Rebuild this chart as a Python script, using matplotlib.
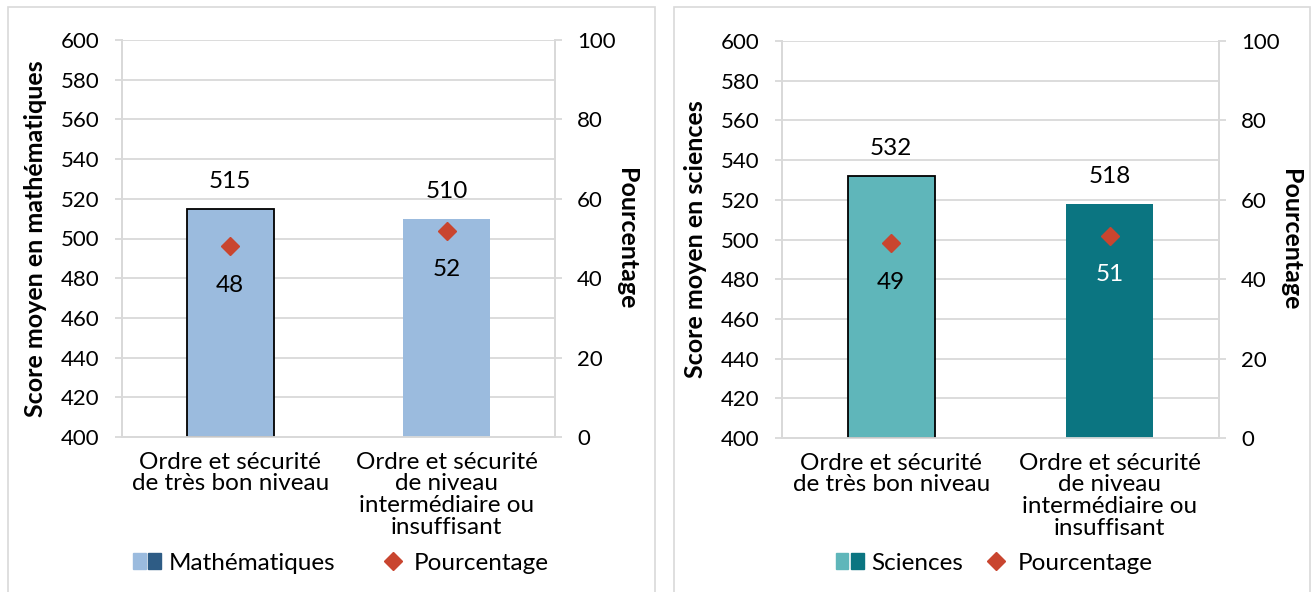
import matplotlib.pyplot as plt
from matplotlib.patches import Patch, Rectangle
from matplotlib.lines import Line2D
from matplotlib.legend_handler import HandlerTuple

plt.rcParams['font.family'] = ['Lato', 'DejaVu Sans']

# Data
categories = ["Ordre et sécurité\nde très bon niveau",
              "Ordre et sécurité\nde niveau\nintermédiaire ou\ninsuffisant"]
math_scores = [515, 510]
math_pct = [48, 52]
sci_scores = [532, 518]
sci_pct = [49, 51]

grid_col = '#D9D9D9'
diamond_col = '#C9452F'
fs = 17.5

fig = plt.figure(figsize=(13.13, 5.92), dpi=100)

# panel frames
for x0, x1 in [(8, 655), (674, 1310)]:
    fig.patches.append(Rectangle((x0 / 1313, -0.05), (x1 - x0) / 1313, 1.05 - 7 / 592,
                                 transform=fig.transFigure, fill=False,
                                 edgecolor=grid_col, lw=1.2))


def panel(rect, scores, pct, colors, edges, pct_colors, ylabel, series, legend_x, colsp):
    ax = fig.add_axes(rect)
    ax2 = ax.twinx()
    x = [0, 1]
    for i in x:
        ax.bar(i, scores[i] - 400, bottom=400, width=0.4, color=colors[i],
               edgecolor='black' if edges[i] else 'none', lw=1.3, zorder=3)
        ax.annotate(str(scores[i]), (i, scores[i]), xytext=(0, 19.5), textcoords='offset points',
                    ha='center', va='center', fontsize=fs)
    ax.set_xlim(-0.5, 1.5)
    ax.set_ylim(400, 600)
    ax.set_yticks(range(400, 601, 20))
    ax.yaxis.grid(True, color=grid_col, lw=1.3, zorder=0)
    ax.set_axisbelow(True)
    ax.set_xticks(x)
    ax.set_xticklabels(categories, fontsize=fs, linespacing=1.04)
    ax.tick_params(axis='x', length=0, pad=10.5)
    ax.tick_params(axis='y', length=5, width=1.3, color=grid_col, labelsize=16, pad=11)
    ax.set_ylabel(ylabel, fontsize=18, fontweight='bold', labelpad=10)

    ax2.plot(x, pct, linestyle='none', marker='D', ms=9, color=diamond_col, zorder=4)
    for i in x:
        ax2.annotate(str(pct[i]), (i, pct[i]), xytext=(0, -28), textcoords='offset points',
                     ha='center', va='center', fontsize=fs, color=pct_colors[i])
    ax2.set_ylim(0, 100)
    ax2.set_yticks(range(0, 101, 20))
    ax2.tick_params(axis='y', length=5, width=1.3, color=grid_col, labelsize=16, pad=11)
    ax2.set_ylabel('Pourcentage', fontsize=18, fontweight='bold', rotation=270, labelpad=16)

    for a in (ax, ax2):
        a.spines['top'].set_visible(False)
        for s in ('left', 'right', 'bottom'):
            a.spines[s].set_color(grid_col)
            a.spines[s].set_linewidth(1.3)

    handles = [(Patch(color=colors[0]), Patch(color=series[1])),
               Line2D([], [], linestyle='none', marker='D', ms=9, color=diamond_col)]
    fig.legend(handles, [series[0], 'Pourcentage'], loc='center',
               bbox_to_anchor=(legend_x, 1 - 563 / 592), ncol=2, frameon=False,
               fontsize=fs, handler_map={tuple: HandlerTuple(ndivide=None, pad=0.1)},
               handlelength=1.15, handleheight=0.6, handletextpad=0.3, columnspacing=colsp)


panel([122 / 1313, 1 - 437 / 592, 433 / 1313, 397 / 592], math_scores, math_pct,
      ['#9BBBDE', '#9BBBDE'], [True, False], ['black', 'black'],
      'Score moyen en mathématiques', ('Mathématiques', '#2E5C85'), 341 / 1313, 1.8)

panel([782 / 1313, 1 - 438 / 592, 437 / 1313, 397 / 592], sci_scores, sci_pct,
      ['#5FB6BA', '#0B7581'], [True, False], ['black', 'white'],
      'Score moyen en sciences', ('Sciences', '#0B7581'), 994 / 1313, 0.8)

fig.savefig('out.png', dpi=100)
